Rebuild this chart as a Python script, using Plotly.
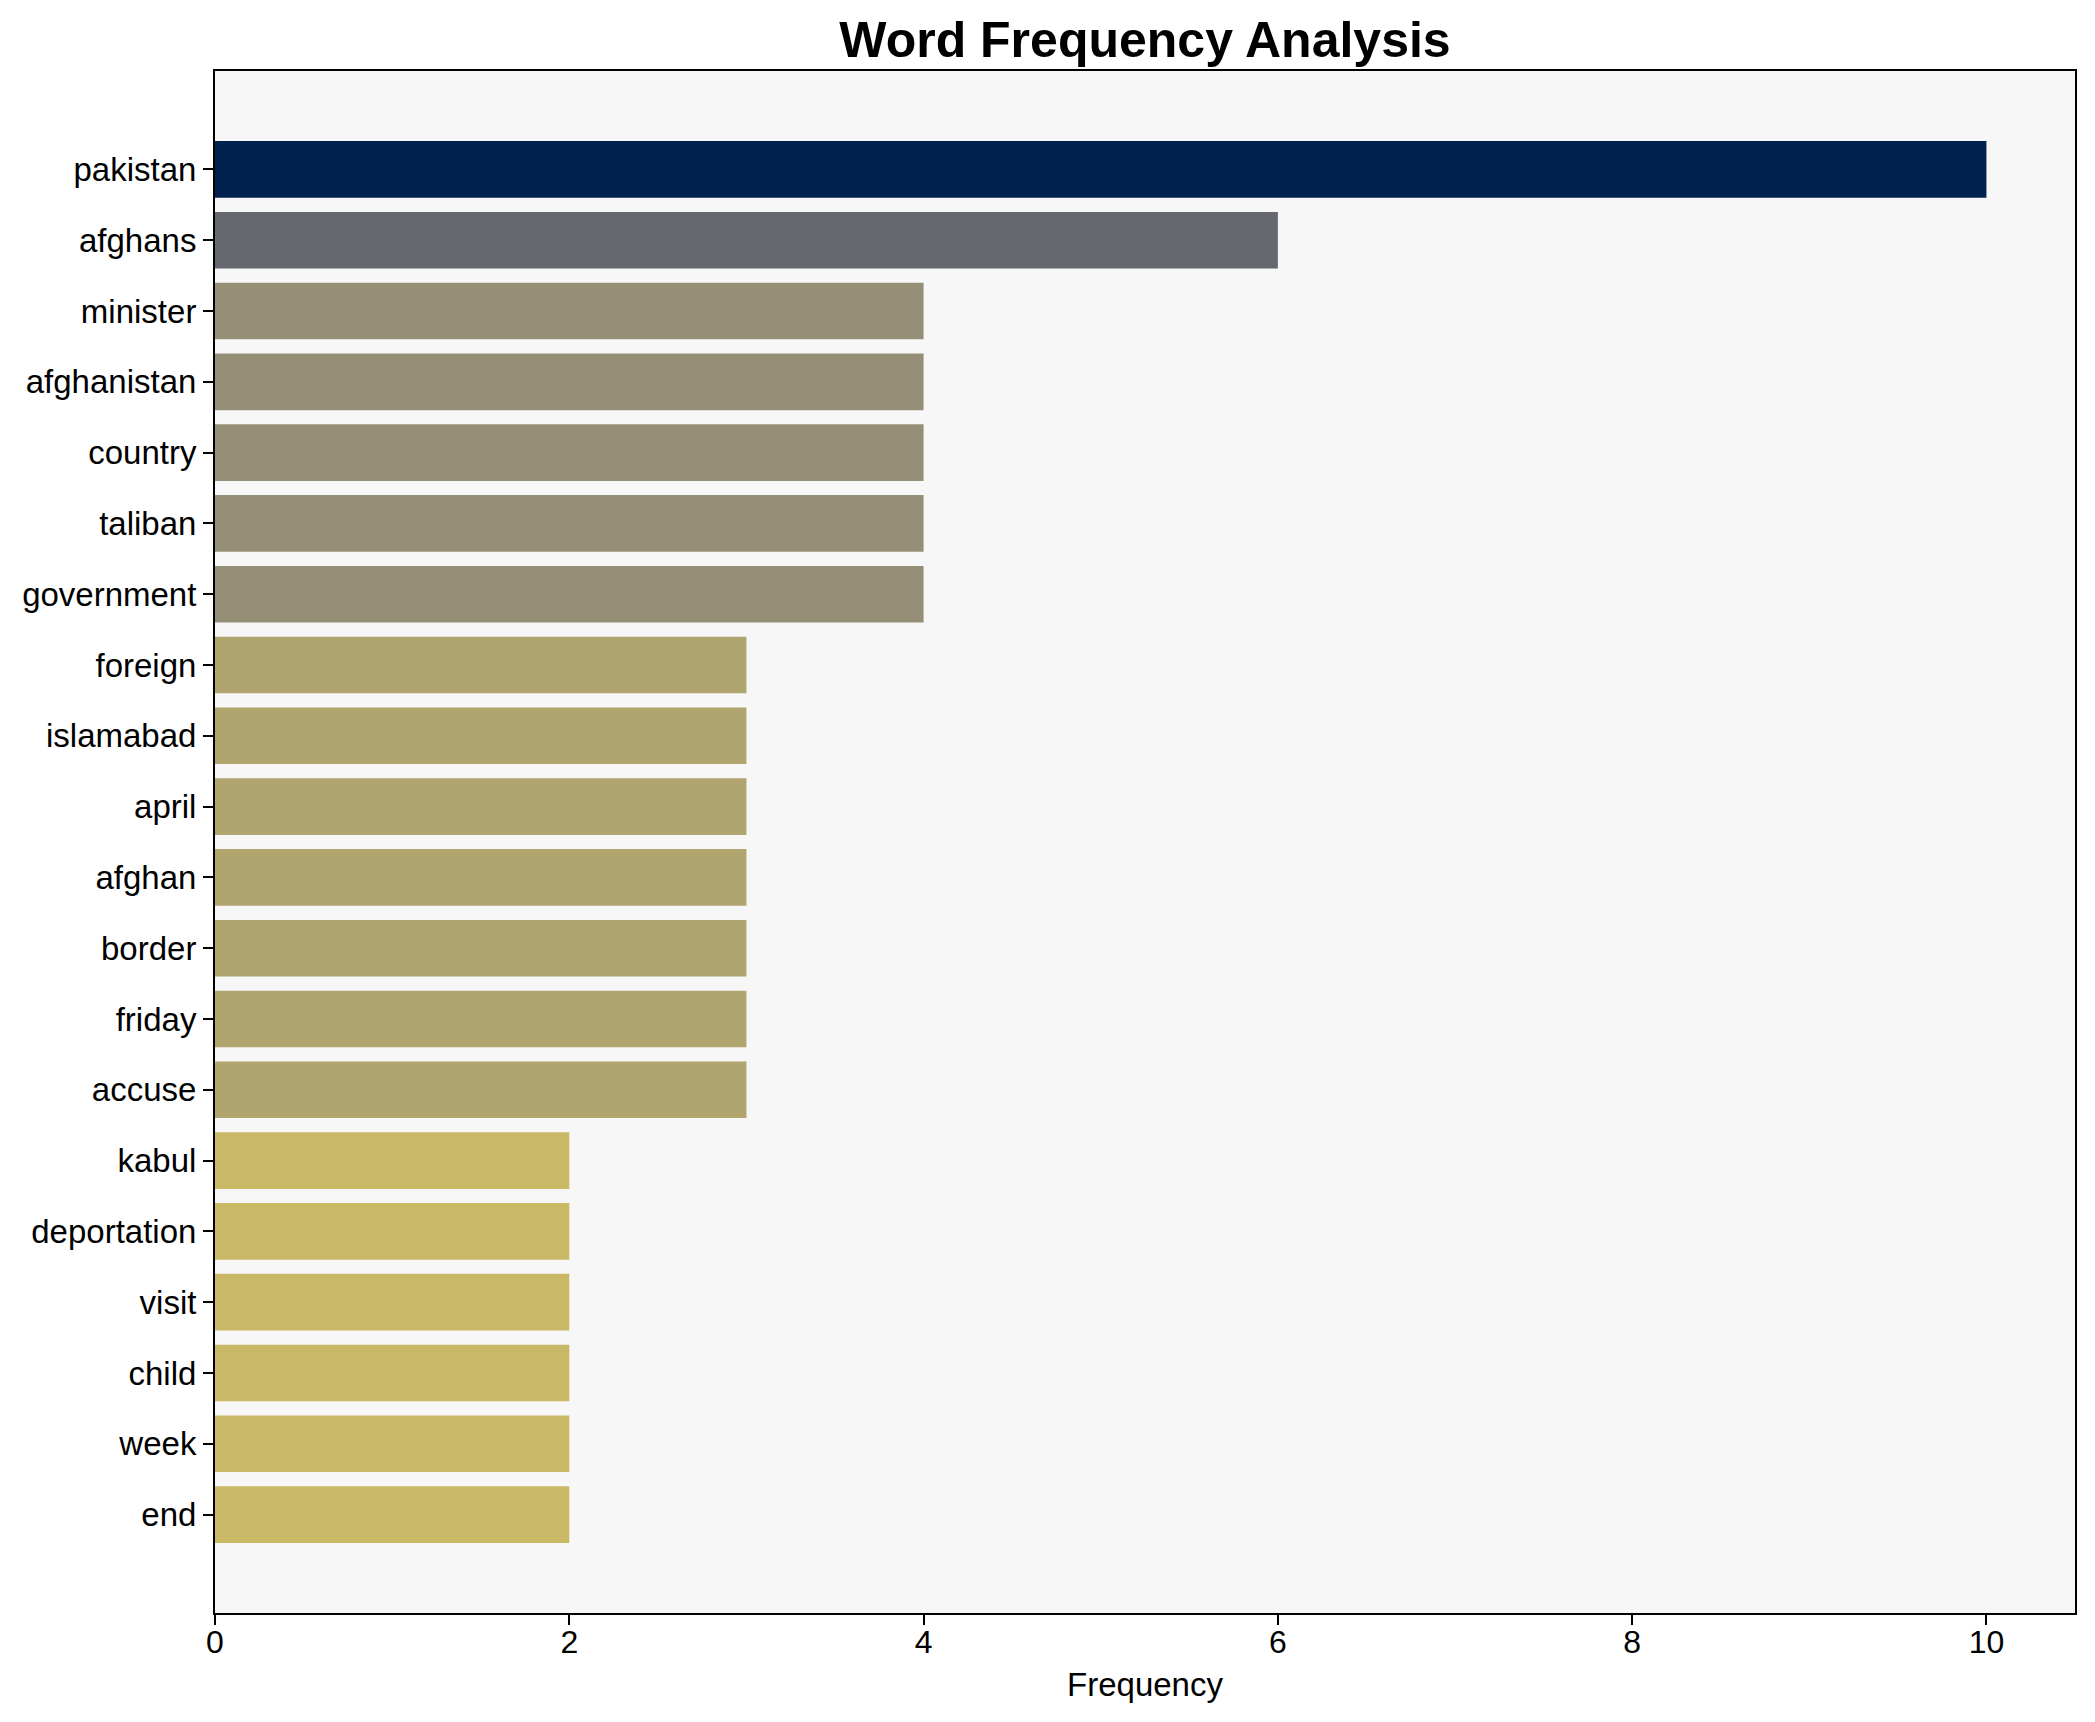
import plotly.graph_objects as go

words = ["pakistan", "afghans", "minister", "afghanistan", "country", "taliban",
         "government", "foreign", "islamabad", "april", "afghan", "border",
         "friday", "accuse", "kabul", "deportation", "visit", "child", "week", "end"]
frequency = [10, 6, 4, 4, 4, 4, 4, 3, 3, 3, 3, 3, 3, 3, 2, 2, 2, 2, 2, 2]

# colour per frequency level (cividis-like shades)
level_colors = {10: "#00224e", 6: "#666870", 4: "#958f78", 3: "#b0a46f", 2: "#c9b866"}
bar_colors = [level_colors[f] for f in frequency]

# page body has an 8px margin; compensate so the plot lands where the reference has it
OFF = 8
W, H = 2095 - OFF, 1722 - OFF
L, R, T, B = 215 - OFF, 20, 71 - OFF, 109
FONT = "Liberation Sans, Arial, Helvetica, sans-serif"

fig = go.Figure(go.Bar(
    x=frequency, y=words, orientation="h",
    marker=dict(color=bar_colors, line=dict(width=0)),
    width=0.8,
))

n = len(words)
fig.update_layout(
    width=W, height=H,
    margin=dict(l=L, r=R, t=T, b=B, pad=0),
    paper_bgcolor="white",
    plot_bgcolor="#f7f7f7",
    font=dict(family=FONT, size=33, color="black"),
    title=dict(text="<b>Word Frequency Analysis</b>", x=(L + (W - R)) / 2 / W, xanchor="center",
               y=1 - (39 - OFF) / H, yanchor="middle", yref="container",
               font=dict(family=FONT, size=50, color="black")),
    showlegend=False,
    bargap=0.2,
)
fig.update_xaxes(
    range=[0, 10.5], tickvals=[0, 2, 4, 6, 8, 10],
    showgrid=False, zeroline=False,
    showline=True, mirror=True, linecolor="black", linewidth=2,
    ticks="outside", ticklen=10, tickwidth=2, tickcolor="black",
    tickfont=dict(size=32), ticklabelstandoff=-10,
    title=dict(text="Frequency", font=dict(size=33), standoff=13),
)
fig.update_yaxes(
    type="category", categoryorder="array", categoryarray=words,
    range=[n - 1 + 1.39, -1.39],
    showgrid=False, zeroline=False,
    showline=True, mirror=True, linecolor="black", linewidth=2,
    ticks="outside", ticklen=10, tickwidth=2, tickcolor="black",
    tickfont=dict(size=33),
)

fig.write_html("out.html")
